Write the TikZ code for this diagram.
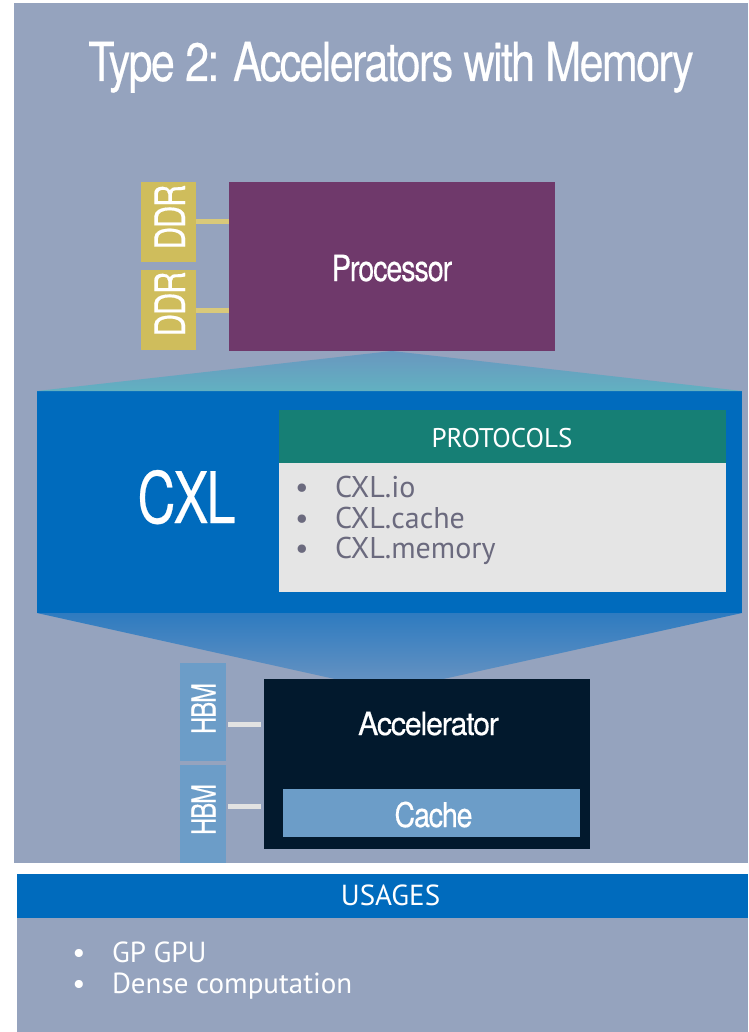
\documentclass[tikz,border=0pt]{standalone}
\usepackage{fontspec}
\setmainfont{PT Sans}
\newfontfamily\headfont[LetterSpace=-4,FakeBold=0.4]{TeX Gyre Heros}
\usetikzlibrary{calc}

\definecolor{panelgray}{HTML}{95A3BE}
\definecolor{ddrgold}{HTML}{CFBD5C}
\definecolor{ddrlink}{HTML}{D9C97A}
\definecolor{procpurple}{HTML}{6F396B}
\definecolor{cxlblue}{HTML}{006BBD}
\definecolor{prototeal}{HTML}{167F75}
\definecolor{protobody}{HTML}{E5E5E5}
\definecolor{prototext}{HTML}{6B6A7E}
\definecolor{hbmblue}{HTML}{6C9DC8}
\definecolor{hbmlink}{HTML}{E2E2E2}
\definecolor{accnavy}{HTML}{02192D}
\definecolor{funnelA}{HTML}{6997BF}
\definecolor{funnelB}{HTML}{62B1C1}
\definecolor{funnelC}{HTML}{2E7BC0}
\definecolor{funnelD}{HTML}{6C95C2}

% horizontally condensed heading text
\newcommand{\narrow}[2]{\scalebox{#1}[1]{#2}}

\begin{document}
\begin{tikzpicture}[x=1pt,y=-1pt,inner sep=0pt,outer sep=0pt,
  block/.style={fill=#1,draw=none,anchor=center},
  headtext/.style={text=white,font=\headfont,anchor=base},
  bodytext/.style={text=white,anchor=base west},
  itemtext/.style={text=prototext,anchor=base west},
  ddrwire/.style={draw=ddrlink,line width=5pt},
  hbmwire/.style={draw=hbmlink,line width=5pt}]

\useasboundingbox (0,0) rectangle (748,1032);
\fill[white] (0,0) rectangle (748,1032);

% upper panel
\fill[panelgray] (14,3) rectangle (748,863);

\node[headtext,font=\headfont\fontsize{54}{60}\selectfont] (title) at (391,81)
  {\narrow{0.8}{Type 2: Accelerators with Memory}};

% processor with its two DDR channels
\node[block=procpurple,minimum width=326pt,minimum height=169pt] (proc) at (392,266.5) {};
\node[headtext,font=\headfont\fontsize{36}{40}\selectfont] (proclabel) at (392,281)
  {\narrow{0.8}{Processor}};

\node[block=ddrgold,minimum width=55pt,minimum height=80pt] (ddr1) at (168.5,222) {};
\node[block=ddrgold,minimum width=55pt,minimum height=80pt] (ddr2) at (168.5,310) {};
\node[headtext,rotate=90,font=\headfont\fontsize{42}{46}\selectfont] (ddr1label) at (185,217)
  {\narrow{0.74}{DDR}};
\node[headtext,rotate=90,font=\headfont\fontsize{42}{46}\selectfont] (ddr2label) at (185,304)
  {\narrow{0.74}{DDR}};
\draw[ddrwire] (ddr1.east) -- (ddr1.east -| proc.west);
\draw[ddrwire] (ddr2.east) -- (ddr2.east -| proc.west);

% CXL link and its funnels
\node[block=cxlblue,minimum width=705pt,minimum height=222pt] (cxl) at (389.5,502) {};
\shade[top color=funnelA,bottom color=funnelB]
  (proc.south) -- (cxl.north east) -- (cxl.north west) -- cycle;
\coordinate (tip) at (389,691);
\shade[top color=funnelC,bottom color=funnelD]
  (cxl.south west) -- (cxl.south east) -- (tip) -- cycle;

\node[headtext,font=\headfont\fontsize{71}{76}\selectfont] (cxllabel) at (186.5,523)
  {\narrow{0.74}{CXL}};

\node[block=prototeal,minimum width=447pt,minimum height=53pt] (protohead) at (502.5,436.5) {};
\node[block=protobody,minimum width=447pt,minimum height=129pt] (protobox) at (502.5,527.5) {};
\node[text=white,anchor=base,font=\fontsize{27}{30}\selectfont] (protolabel) at (502,447) {PROTOCOLS};

\node[text=prototext,anchor=base,font=\fontsize{30}{31}\selectfont] (b1) at (302,497) {•};
\node[text=prototext,anchor=base,font=\fontsize{30}{31}\selectfont] (b2) at (302,528) {•};
\node[text=prototext,anchor=base,font=\fontsize{30}{31}\selectfont] (b3) at (302,558) {•};
\node[itemtext,font=\fontsize{30}{31}\selectfont] (p1) at (335,497) {CXL.io};
\node[itemtext,font=\fontsize{30}{31}\selectfont] (p2) at (335,528) {CXL.cache};
\node[itemtext,font=\fontsize{30}{31}\selectfont] (p3) at (335,558) {CXL.memory};

% accelerator with its HBM stacks
\node[block=hbmblue,minimum width=46pt,minimum height=98pt] (hbm1) at (203,712) {};
\node[block=hbmblue,minimum width=46pt,minimum height=98pt] (hbm2) at (203,814) {};
\node[headtext,rotate=90,font=\headfont\fontsize{33}{36}\selectfont] (hbm1label) at (215.5,708.5)
  {\narrow{0.72}{HBM}};
\node[headtext,rotate=90,font=\headfont\fontsize{33}{36}\selectfont] (hbm2label) at (215.5,809.5)
  {\narrow{0.72}{HBM}};

\node[block=accnavy,minimum width=326pt,minimum height=170pt] (acc) at (427,764) {};
\node[headtext,font=\headfont\fontsize{32}{36}\selectfont] (acclabel) at (428.5,735)
  {\narrow{0.95}{Accelerator}};
\node[block=hbmblue,minimum width=297pt,minimum height=48pt] (cache) at (431.5,813) {};
\node[headtext,font=\headfont\fontsize{34}{38}\selectfont] (cachelabel) at (433.5,827)
  {\narrow{0.84}{Cache}};

\draw[hbmwire,shorten <=2pt,shorten >=3pt]
  ($(hbm1.east)+(0,12)$) -- ($(hbm1.east -| acc.west)+(0,12)$);
\draw[hbmwire,shorten <=2pt,shorten >=3pt]
  ($(hbm2.east)+(0,-8)$) -- ($(hbm2.east -| acc.west)+(0,-8)$);

% usages panel
\node[block=cxlblue,minimum width=731pt,minimum height=44pt] (usehead) at (382.5,896) {};
\node[block=panelgray,minimum width=731pt,minimum height=114pt] (usebox) at (382.5,975) {};
\node[text=white,anchor=base,font=\fontsize{29}{32}\selectfont] (uselabel) at (390.5,905) {USAGES};
\node[text=white,anchor=base,font=\fontsize{29}{31}\selectfont] (u1b) at (79,962) {•};
\node[text=white,anchor=base,font=\fontsize{29}{31}\selectfont] (u2b) at (79,993) {•};
\node[bodytext,font=\fontsize{29}{31}\selectfont] (u1) at (112,962) {GP GPU};
\node[bodytext,font=\fontsize{29}{31}\selectfont] (u2) at (112,993) {Dense computation};

\end{tikzpicture}
\end{document}
